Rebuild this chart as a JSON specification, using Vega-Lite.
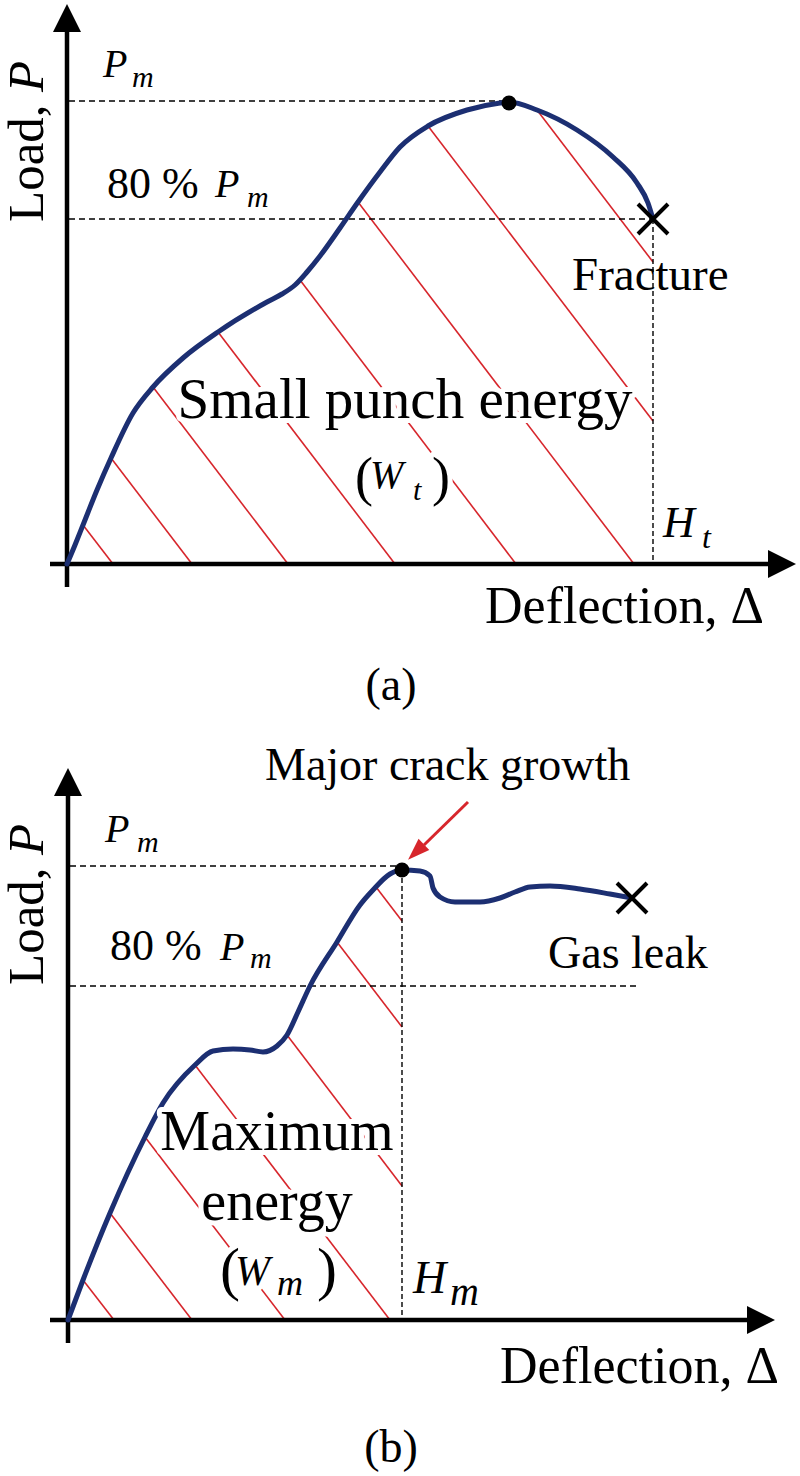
{
  "$schema": "https://vega.github.io/schema/vega-lite/v6.json",
  "padding": 0,
  "spacing": 0,
  "config": {
    "font": "'Liberation Serif', 'Times New Roman', 'DejaVu Serif', serif",
    "view": {"stroke": null},
    "text": {"font": "'Liberation Serif', 'Times New Roman', 'DejaVu Serif', serif", "baseline": "alphabetic", "align": "left", "color": "black"}
  },
  "datasets": {
    "curveA": [
      {"d": 0, "l": 0}, {"d": 8, "l": 19}, {"d": 16, "l": 39}, {"d": 30, "l": 74}, {"d": 44, "l": 106},
      {"d": 66, "l": 151}, {"d": 86, "l": 177}, {"d": 116, "l": 206}, {"d": 151, "l": 232}, {"d": 200, "l": 262},
      {"d": 215, "l": 270}, {"d": 228, "l": 279}, {"d": 240, "l": 292}, {"d": 253, "l": 308}, {"d": 273, "l": 336},
      {"d": 291, "l": 362}, {"d": 313, "l": 392}, {"d": 333, "l": 417}, {"d": 361, "l": 438}, {"d": 400, "l": 454},
      {"d": 433, "l": 461}, {"d": 442, "l": 462}, {"d": 470, "l": 454}, {"d": 510, "l": 434}, {"d": 546, "l": 407},
      {"d": 570, "l": 381}, {"d": 581, "l": 361}, {"d": 586, "l": 345}
    ],
    "hatchA": [
      {"d": 16, "l": 39, "d2": 46, "l2": 0},
      {"d": 44, "l": 106, "d2": 125, "l2": 0},
      {"d": 86, "l": 177, "d2": 221, "l2": 0},
      {"d": 151, "l": 232, "d2": 328, "l2": 0},
      {"d": 233, "l": 284, "d2": 449, "l2": 0},
      {"d": 291, "l": 362, "d2": 567, "l2": 0},
      {"d": 361, "l": 438, "d2": 586, "l2": 143},
      {"d": 470, "l": 454, "d2": 586, "l2": 302}
    ],
    "guideA": [
      {"d": 2, "l": 463, "d2": 442, "l2": 463},
      {"d": 2, "l": 345, "d2": 586, "l2": 345}
    ],
    "dropA": [
      {"d": 586, "l": 345, "d2": 586, "l2": 0}
    ],
    "axisA": [
      {"d": 0, "l": -23, "d2": 0, "l2": 533},
      {"d": -17, "l": 0, "d2": 702, "l2": 0}
    ],
    "arrowA": [
      {"dir": "up", "d": 0, "l": 546},
      {"dir": "right", "d": 715, "l": 0}
    ],
    "peakA": [{"d": 442, "l": 461}],
    "fracA": [{"d": 586, "l": 345}],
    "textA": [
      {"role": "big", "text": "Small punch energy", "d": 338, "l": 146},
      {"role": "paren", "text": "(", "d": 288, "l": 69},
      {"role": "paren", "text": ")", "d": 365, "l": 69},
      {"role": "W", "text": "W", "d": 303, "l": 76},
      {"role": "wsub", "text": "t", "d": 346, "l": 64},
      {"role": "P", "text": "P", "d": 36, "l": 487},
      {"role": "P", "text": "P", "d": 148, "l": 367},
      {"role": "sub", "text": "m", "d": 65, "l": 477},
      {"role": "sub", "text": "m", "d": 180, "l": 357},
      {"role": "H", "text": "H", "d": 596, "l": 27},
      {"role": "hsub", "text": "t", "d": 635, "l": 16},
      {"role": "note", "text": "Fracture", "d": 505, "l": 274},
      {"role": "pct", "text": "80 %", "d": 40, "l": 366},
      {"role": "axis", "text": "Deflection, Δ", "d": 418, "l": -59},
      {"role": "panel", "text": "(a)", "d": 324, "l": -136},
      {"role": "load", "text": "Load,", "d": -24, "l": 342},
      {"role": "loadP", "text": "P", "d": -24, "l": 472}
    ],
    "curveB": [
      {"d": 0, "l": 0}, {"d": 15, "l": 40}, {"d": 42, "l": 107}, {"d": 77, "l": 183}, {"d": 95, "l": 217},
      {"d": 127, "l": 255}, {"d": 145, "l": 269}, {"d": 165, "l": 271}, {"d": 182, "l": 270}, {"d": 195, "l": 268},
      {"d": 209, "l": 274}, {"d": 219, "l": 285}, {"d": 230, "l": 308}, {"d": 242, "l": 334}, {"d": 269, "l": 378},
      {"d": 292, "l": 415}, {"d": 305, "l": 430}, {"d": 322, "l": 446}, {"d": 334, "l": 450}, {"d": 352, "l": 449},
      {"d": 362, "l": 444}, {"d": 365, "l": 432}, {"d": 372, "l": 423}, {"d": 387, "l": 418}, {"d": 412, "l": 418},
      {"d": 432, "l": 422}, {"d": 447, "l": 428}, {"d": 462, "l": 433}, {"d": 482, "l": 434}, {"d": 512, "l": 431},
      {"d": 542, "l": 426}, {"d": 564, "l": 422}
    ],
    "hatchB": [
      {"d": 15, "l": 40, "d2": 46, "l2": 0},
      {"d": 42, "l": 107, "d2": 124, "l2": 0},
      {"d": 77, "l": 183, "d2": 217, "l2": 0},
      {"d": 127, "l": 255, "d2": 322, "l2": 0},
      {"d": 219, "l": 285, "d2": 334, "l2": 134},
      {"d": 269, "l": 378, "d2": 334, "l2": 293},
      {"d": 308, "l": 433, "d2": 334, "l2": 399}
    ],
    "guideB": [
      {"d": 2, "l": 454, "d2": 334, "l2": 454},
      {"d": 2, "l": 334, "d2": 569, "l2": 334}
    ],
    "dropB": [
      {"d": 334, "l": 450, "d2": 334, "l2": 0}
    ],
    "axisB": [
      {"d": 0, "l": -23, "d2": 0, "l2": 526},
      {"d": -18, "l": 0, "d2": 681, "l2": 0}
    ],
    "arrowB": [
      {"dir": "up", "d": 0, "l": 538},
      {"dir": "right", "d": 693, "l": 0}
    ],
    "peakB": [{"d": 334, "l": 450}],
    "leakB": [{"d": 564, "l": 422}],
    "pointerB": [{"d": 400, "l": 518, "d2": 356, "l2": 475}],
    "pointerHeadB": [{"d": 348, "l": 468}],
    "textB": [
      {"role": "note", "text": "Major crack growth", "d": 197, "l": 540},
      {"role": "note", "text": "Gas leak", "d": 480, "l": 352},
      {"role": "load", "text": "Load,", "d": -25, "l": 335},
      {"role": "loadP", "text": "P", "d": -25, "l": 465},
      {"role": "P", "text": "P", "d": 37, "l": 478},
      {"role": "sub", "text": "m", "d": 69, "l": 468},
      {"role": "pct", "text": "80 %", "d": 42, "l": 360},
      {"role": "P", "text": "P", "d": 152, "l": 360},
      {"role": "sub", "text": "m", "d": 182, "l": 352},
      {"role": "big", "text": "Maximum", "d": 209, "l": 170},
      {"role": "big", "text": "energy", "d": 209, "l": 100},
      {"role": "paren", "text": "(", "d": 152, "l": 31},
      {"role": "paren", "text": ")", "d": 249, "l": 31},
      {"role": "W", "text": "W", "d": 167, "l": 35},
      {"role": "wsub", "text": "m", "d": 209, "l": 25},
      {"role": "H", "text": "H", "d": 345, "l": 27},
      {"role": "hsub", "text": "m", "d": 382, "l": 15},
      {"role": "axis", "text": "Deflection, Δ", "d": 432, "l": -63},
      {"role": "panel", "text": "(b)", "d": 323, "l": -142}
    ]
  },
  "vconcat": [
    {
      "width": 800,
      "height": 730,
      "encoding": {
        "x": {"field": "d", "type": "quantitative", "axis": null, "scale": {"domain": [-67, 733], "nice": false, "zero": false}},
        "y": {"field": "l", "type": "quantitative", "axis": null, "scale": {"domain": [-166, 564], "nice": false, "zero": false}}
      },
      "layer": [
        {"data": {"name": "hatchA"}, "mark": {"type": "rule", "color": "#d7262c", "strokeWidth": 1.6}, "encoding": {"x2": {"field": "d2"}, "y2": {"field": "l2"}}},
        {"data": {"name": "guideA"}, "mark": {"type": "rule", "color": "black", "strokeWidth": 1.6, "strokeDash": [6, 4]}, "encoding": {"x2": {"field": "d2"}, "y2": {"field": "l2"}}},
        {"data": {"name": "dropA"}, "mark": {"type": "rule", "color": "black", "strokeWidth": 1.4, "strokeDash": [5, 3]}, "encoding": {"x2": {"field": "d2"}, "y2": {"field": "l2"}}},
        {"data": {"name": "axisA"}, "mark": {"type": "rule", "color": "black", "strokeWidth": 4.5}, "encoding": {"x2": {"field": "d2"}, "y2": {"field": "l2"}}},
        {"data": {"name": "curveA"}, "mark": {"type": "line", "interpolate": "monotone", "color": "#1c2f72", "strokeWidth": 5, "strokeCap": "round"}},
        {"data": {"name": "textA"}, "transform": [{"filter": "datum.role === 'big'"}], "mark": {"type": "text", "align": "center", "fontSize": 57, "color": "white", "stroke": "white", "strokeWidth": 10, "strokeJoin": "round"}, "encoding": {"text": {"field": "text"}}},
        {"data": {"name": "textA"}, "transform": [{"filter": "datum.role === 'paren'"}], "mark": {"type": "text", "fontSize": 54, "color": "white", "stroke": "white", "strokeWidth": 10, "strokeJoin": "round"}, "encoding": {"text": {"field": "text"}}},
        {"data": {"name": "textA"}, "transform": [{"filter": "datum.role === 'W'"}], "mark": {"type": "text", "fontSize": 40, "fontStyle": "italic", "color": "white", "stroke": "white", "strokeWidth": 10, "strokeJoin": "round"}, "encoding": {"text": {"field": "text"}}},
        {"data": {"name": "textA"}, "transform": [{"filter": "datum.role === 'wsub'"}], "mark": {"type": "text", "fontSize": 30, "fontStyle": "italic", "color": "white", "stroke": "white", "strokeWidth": 10, "strokeJoin": "round"}, "encoding": {"text": {"field": "text"}}},
        {"data": {"name": "textA"}, "transform": [{"filter": "datum.role === 'big'"}], "mark": {"type": "text", "align": "center", "fontSize": 57}, "encoding": {"text": {"field": "text"}}},
        {"data": {"name": "textA"}, "transform": [{"filter": "datum.role === 'paren'"}], "mark": {"type": "text", "fontSize": 54}, "encoding": {"text": {"field": "text"}}},
        {"data": {"name": "textA"}, "transform": [{"filter": "datum.role === 'W'"}], "mark": {"type": "text", "fontSize": 40, "fontStyle": "italic"}, "encoding": {"text": {"field": "text"}}},
        {"data": {"name": "textA"}, "transform": [{"filter": "datum.role === 'wsub'"}], "mark": {"type": "text", "fontSize": 30, "fontStyle": "italic"}, "encoding": {"text": {"field": "text"}}},
        {"data": {"name": "textA"}, "transform": [{"filter": "datum.role === 'P'"}], "mark": {"type": "text", "fontSize": 40, "fontStyle": "italic"}, "encoding": {"text": {"field": "text"}}},
        {"data": {"name": "textA"}, "transform": [{"filter": "datum.role === 'sub'"}], "mark": {"type": "text", "fontSize": 30, "fontStyle": "italic"}, "encoding": {"text": {"field": "text"}}},
        {"data": {"name": "textA"}, "transform": [{"filter": "datum.role === 'H'"}], "mark": {"type": "text", "fontSize": 44, "fontStyle": "italic"}, "encoding": {"text": {"field": "text"}}},
        {"data": {"name": "textA"}, "transform": [{"filter": "datum.role === 'hsub'"}], "mark": {"type": "text", "fontSize": 32, "fontStyle": "italic"}, "encoding": {"text": {"field": "text"}}},
        {"data": {"name": "textA"}, "transform": [{"filter": "datum.role === 'note'"}], "mark": {"type": "text", "fontSize": 47}, "encoding": {"text": {"field": "text"}}},
        {"data": {"name": "textA"}, "transform": [{"filter": "datum.role === 'pct'"}], "mark": {"type": "text", "fontSize": 44}, "encoding": {"text": {"field": "text"}}},
        {"data": {"name": "textA"}, "transform": [{"filter": "datum.role === 'axis'"}], "mark": {"type": "text", "fontSize": 52}, "encoding": {"text": {"field": "text"}}},
        {"data": {"name": "textA"}, "transform": [{"filter": "datum.role === 'panel'"}], "mark": {"type": "text", "align": "center", "fontSize": 46}, "encoding": {"text": {"field": "text"}}},
        {"data": {"name": "textA"}, "transform": [{"filter": "datum.role === 'load'"}], "mark": {"type": "text", "fontSize": 51, "angle": 270}, "encoding": {"text": {"field": "text"}}},
        {"data": {"name": "textA"}, "transform": [{"filter": "datum.role === 'loadP'"}], "mark": {"type": "text", "fontSize": 51, "angle": 270, "fontStyle": "italic"}, "encoding": {"text": {"field": "text"}}},
        {"data": {"name": "arrowA"}, "mark": {"type": "point", "filled": true, "color": "black", "opacity": 1, "size": 784}, "encoding": {"shape": {"field": "dir", "type": "nominal", "legend": null, "scale": {"domain": ["up", "right"], "range": ["M0,-1L1,1L-1,1Z", "M1,0L-1,-1L-1,1Z"]}}}},
        {"data": {"name": "peakA"}, "mark": {"type": "point", "shape": "circle", "filled": true, "color": "black", "opacity": 1, "size": 225}},
        {"data": {"name": "fracA"}, "mark": {"type": "point", "shape": "M-1,-1L1,1M1,-1L-1,1", "filled": false, "color": "black", "strokeWidth": 4, "opacity": 1, "size": 900}}
      ]
    },
    {
      "width": 800,
      "height": 746,
      "encoding": {
        "x": {"field": "d", "type": "quantitative", "axis": null, "scale": {"domain": [-68, 732], "nice": false, "zero": false}},
        "y": {"field": "l", "type": "quantitative", "axis": null, "scale": {"domain": [-156, 590], "nice": false, "zero": false}}
      },
      "layer": [
        {"data": {"name": "hatchB"}, "mark": {"type": "rule", "color": "#d7262c", "strokeWidth": 1.6}, "encoding": {"x2": {"field": "d2"}, "y2": {"field": "l2"}}},
        {"data": {"name": "guideB"}, "mark": {"type": "rule", "color": "black", "strokeWidth": 1.6, "strokeDash": [6, 4]}, "encoding": {"x2": {"field": "d2"}, "y2": {"field": "l2"}}},
        {"data": {"name": "dropB"}, "mark": {"type": "rule", "color": "black", "strokeWidth": 1.4, "strokeDash": [5, 3]}, "encoding": {"x2": {"field": "d2"}, "y2": {"field": "l2"}}},
        {"data": {"name": "axisB"}, "mark": {"type": "rule", "color": "black", "strokeWidth": 4.5}, "encoding": {"x2": {"field": "d2"}, "y2": {"field": "l2"}}},
        {"data": {"name": "curveB"}, "mark": {"type": "line", "interpolate": "monotone", "color": "#1c2f72", "strokeWidth": 5, "strokeCap": "round"}},
        {"data": {"name": "textB"}, "transform": [{"filter": "datum.role === 'big'"}], "mark": {"type": "text", "align": "center", "fontSize": 56, "color": "white", "stroke": "white", "strokeWidth": 10, "strokeJoin": "round"}, "encoding": {"text": {"field": "text"}}},
        {"data": {"name": "textB"}, "transform": [{"filter": "datum.role === 'paren'"}], "mark": {"type": "text", "fontSize": 60, "color": "white", "stroke": "white", "strokeWidth": 10, "strokeJoin": "round"}, "encoding": {"text": {"field": "text"}}},
        {"data": {"name": "textB"}, "transform": [{"filter": "datum.role === 'W'"}], "mark": {"type": "text", "fontSize": 42, "fontStyle": "italic", "color": "white", "stroke": "white", "strokeWidth": 10, "strokeJoin": "round"}, "encoding": {"text": {"field": "text"}}},
        {"data": {"name": "textB"}, "transform": [{"filter": "datum.role === 'wsub'"}], "mark": {"type": "text", "fontSize": 36, "fontStyle": "italic", "color": "white", "stroke": "white", "strokeWidth": 10, "strokeJoin": "round"}, "encoding": {"text": {"field": "text"}}},
        {"data": {"name": "textB"}, "transform": [{"filter": "datum.role === 'big'"}], "mark": {"type": "text", "align": "center", "fontSize": 56}, "encoding": {"text": {"field": "text"}}},
        {"data": {"name": "textB"}, "transform": [{"filter": "datum.role === 'paren'"}], "mark": {"type": "text", "fontSize": 60}, "encoding": {"text": {"field": "text"}}},
        {"data": {"name": "textB"}, "transform": [{"filter": "datum.role === 'W'"}], "mark": {"type": "text", "fontSize": 42, "fontStyle": "italic"}, "encoding": {"text": {"field": "text"}}},
        {"data": {"name": "textB"}, "transform": [{"filter": "datum.role === 'wsub'"}], "mark": {"type": "text", "fontSize": 36, "fontStyle": "italic"}, "encoding": {"text": {"field": "text"}}},
        {"data": {"name": "textB"}, "transform": [{"filter": "datum.role === 'P'"}], "mark": {"type": "text", "fontSize": 40, "fontStyle": "italic"}, "encoding": {"text": {"field": "text"}}},
        {"data": {"name": "textB"}, "transform": [{"filter": "datum.role === 'sub'"}], "mark": {"type": "text", "fontSize": 30, "fontStyle": "italic"}, "encoding": {"text": {"field": "text"}}},
        {"data": {"name": "textB"}, "transform": [{"filter": "datum.role === 'H'"}], "mark": {"type": "text", "fontSize": 46, "fontStyle": "italic"}, "encoding": {"text": {"field": "text"}}},
        {"data": {"name": "textB"}, "transform": [{"filter": "datum.role === 'hsub'"}], "mark": {"type": "text", "fontSize": 40, "fontStyle": "italic"}, "encoding": {"text": {"field": "text"}}},
        {"data": {"name": "textB"}, "transform": [{"filter": "datum.role === 'note'"}], "mark": {"type": "text", "fontSize": 46}, "encoding": {"text": {"field": "text"}}},
        {"data": {"name": "textB"}, "transform": [{"filter": "datum.role === 'pct'"}], "mark": {"type": "text", "fontSize": 44}, "encoding": {"text": {"field": "text"}}},
        {"data": {"name": "textB"}, "transform": [{"filter": "datum.role === 'axis'"}], "mark": {"type": "text", "fontSize": 52}, "encoding": {"text": {"field": "text"}}},
        {"data": {"name": "textB"}, "transform": [{"filter": "datum.role === 'panel'"}], "mark": {"type": "text", "align": "center", "fontSize": 46}, "encoding": {"text": {"field": "text"}}},
        {"data": {"name": "textB"}, "transform": [{"filter": "datum.role === 'load'"}], "mark": {"type": "text", "fontSize": 51, "angle": 270}, "encoding": {"text": {"field": "text"}}},
        {"data": {"name": "textB"}, "transform": [{"filter": "datum.role === 'loadP'"}], "mark": {"type": "text", "fontSize": 51, "angle": 270, "fontStyle": "italic"}, "encoding": {"text": {"field": "text"}}},
        {"data": {"name": "pointerB"}, "mark": {"type": "rule", "color": "#d7262c", "strokeWidth": 3}, "encoding": {"x2": {"field": "d2"}, "y2": {"field": "l2"}}},
        {"data": {"name": "pointerHeadB"}, "mark": {"type": "point", "shape": "M0,-1L0.7,1L-0.7,1Z", "angle": 226, "filled": true, "color": "#d7262c", "opacity": 1, "size": 484}},
        {"data": {"name": "arrowB"}, "mark": {"type": "point", "filled": true, "color": "black", "opacity": 1, "size": 784}, "encoding": {"shape": {"field": "dir", "type": "nominal", "legend": null, "scale": {"domain": ["up", "right"], "range": ["M0,-1L1,1L-1,1Z", "M1,0L-1,-1L-1,1Z"]}}}},
        {"data": {"name": "peakB"}, "mark": {"type": "point", "shape": "circle", "filled": true, "color": "black", "opacity": 1, "size": 225}},
        {"data": {"name": "leakB"}, "mark": {"type": "point", "shape": "M-1,-1L1,1M1,-1L-1,1", "filled": false, "color": "black", "strokeWidth": 4, "opacity": 1, "size": 900}}
      ]
    }
  ]
}
